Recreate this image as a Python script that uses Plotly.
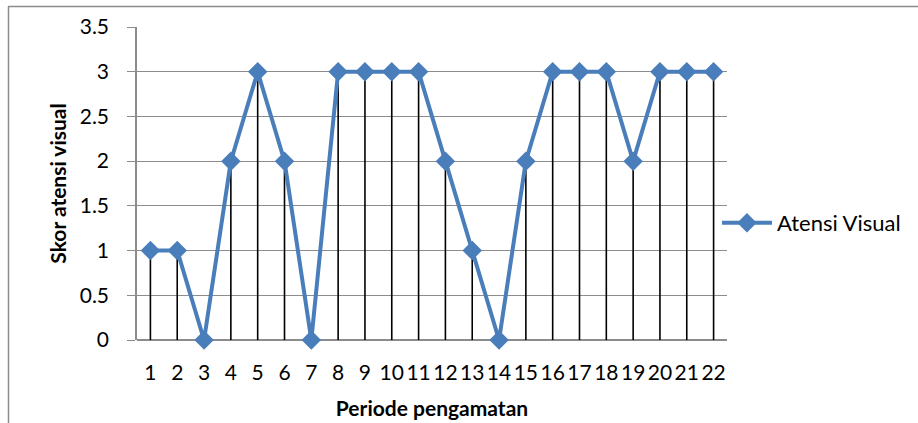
import plotly.graph_objects as go

periods = [str(i) for i in range(1, 23)]
scores = [1, 1, 0, 2, 3, 2, 0, 3, 3, 3, 3, 2, 1, 0, 2, 3, 3, 3, 2, 3, 3, 3]
series_name = "Atensi Visual"
x_title = "Periode pengamatan"
y_title = "Skor atensi visual"

FONT = "Lato"
BLUE = "#4A7EBB"
GRID = "#8C8C8C"

fig = go.Figure()

# drop lines (vertical lines from each point down to the axis)
fig.add_trace(go.Scatter(
    x=periods, y=scores, mode="markers",
    marker=dict(size=0.1, opacity=0),
    error_y=dict(type="data", symmetric=False,
                 array=[0] * len(scores), arrayminus=scores,
                 width=0, color="black", thickness=1.6),
    showlegend=False, hoverinfo="skip", cliponaxis=False,
))

fig.add_trace(go.Scatter(
    x=periods, y=scores, mode="lines+markers", name=series_name,
    line=dict(color=BLUE, width=4),
    marker=dict(symbol="diamond", size=15, color=BLUE),
    cliponaxis=False,
))

fig.update_layout(
    width=918, height=423,
    margin=dict(l=137, r=191, t=27, b=83, autoexpand=False),
    paper_bgcolor="white", plot_bgcolor="white",
    font=dict(family=FONT, size=21, color="black"),
    showlegend=True,
    legend=dict(x=0.983, y=0.374, xanchor="left", yanchor="middle",
                font=dict(family=FONT, size=22, color="black"),
                bgcolor="rgba(0,0,0,0)", itemwidth=50),
    xaxis=dict(
        type="category", range=[-0.5, 21.5],
        showgrid=False, showline=False, ticks="",
        zeroline=False, ticklabelstandoff=18, automargin=False,
        title=dict(text="<b>" + x_title + "</b>", font=dict(size=21), standoff=18),
    ),
    yaxis=dict(
        range=[0, 3.5], dtick=0.5,
        showgrid=True, gridcolor=GRID, gridwidth=1.2,
        showline=True, linecolor=GRID, linewidth=1.5,
        zeroline=True, zerolinecolor=GRID, zerolinewidth=1.5,
        ticks="outside", ticklen=8, tickcolor=GRID, tickwidth=1.2,
        ticklabelstandoff=14, automargin=False,
        title=dict(text="<b>" + y_title + "</b>", font=dict(size=21), standoff=7),
    ),
    shapes=[
        dict(type="line", xref="paper", yref="paper",
             x0=(8 - 137) / 590, x1=(930 - 137) / 590,
             y0=1 + (27 - 6.5) / 313, y1=1 + (27 - 6.5) / 313,
             line=dict(color="#8C8C8C", width=1.5)),
        dict(type="line", xref="paper", yref="paper",
             x0=(8.5 - 137) / 590, x1=(8.5 - 137) / 590,
             y0=1 + (27 - 6.5) / 313, y1=-(440 - 340) / 313,
             line=dict(color="#8C8C8C", width=1.5)),
    ],
)

fig.write_html("out.html")
